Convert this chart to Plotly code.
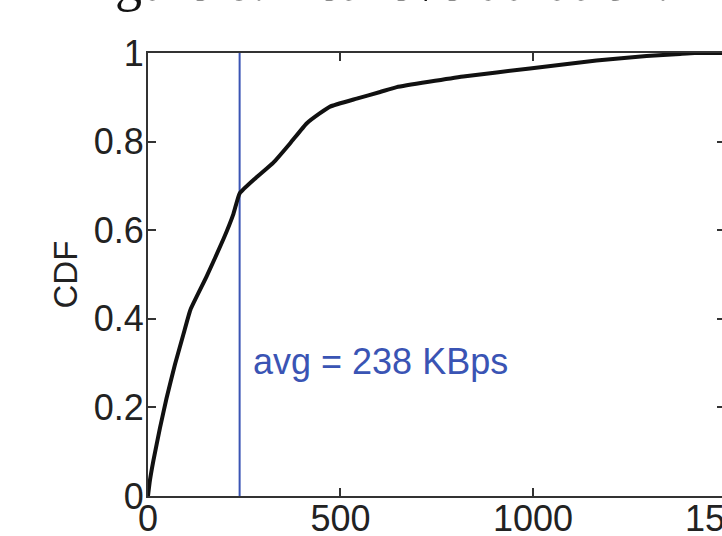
import plotly.graph_objects as go

# Throughput CDF (KBps) sampled along the curve
throughput = [0, 5, 14, 31, 48, 70, 92, 110, 152, 196, 222, 238, 280, 325, 370,
              412, 445, 473, 542, 603, 646, 819, 992, 1165, 1295, 1382, 1420, 1500]
cdf = [0, 0.035, 0.08, 0.153, 0.22, 0.297, 0.365, 0.42, 0.495, 0.58, 0.637, 0.683,
       0.718, 0.752, 0.797, 0.841, 0.863, 0.879, 0.897, 0.912, 0.923, 0.947, 0.965,
       0.983, 0.993, 0.998, 1.0, 1.0]

avg_throughput = 238
x_ticks = [0, 500, 1000]
x_last_tick = 1500
y_ticks = [0, 0.2, 0.4, 0.6, 0.8, 1]
x_max = 1491

caption = "Figure 6: Retrieve duration."

AXIS = "#333333"
BLUE = "#3a54b4"
FONT = "Liberation Sans, Arial, sans-serif"

fig = go.Figure()

fig.add_trace(go.Scatter(
    x=[avg_throughput, avg_throughput], y=[0, 1], mode="lines",
    line=dict(color=BLUE, width=2), hoverinfo="skip", showlegend=False))

fig.add_trace(go.Scatter(
    x=throughput, y=cdf, mode="lines",
    line=dict(color="#111111", width=4, shape="spline", smoothing=0.4),
    showlegend=False))

# right-hand tick marks (inward)
fig.add_trace(go.Scatter(x=[None], y=[None], yaxis="y2", showlegend=False))

fig.update_layout(
    width=722, height=536,
    margin=dict(l=148, r=0, t=53, b=40, autoexpand=False),
    paper_bgcolor="white", plot_bgcolor="white",
    font=dict(family=FONT, size=36, color="#222222"),
    xaxis=dict(
        range=[0, x_max], tickvals=x_ticks, ticks="inside", ticklen=8,
        tickwidth=2, tickcolor=AXIS, showline=True, linecolor=AXIS,
        linewidth=2, mirror="ticks", showgrid=False, zeroline=False,
        ticklabelstandoff=-10, automargin=False,
        tickfont=dict(size=36, color="#222222"),
    ),
    yaxis=dict(
        range=[0, 1], tickvals=y_ticks, ticks="inside", ticklen=8,
        tickwidth=2, tickcolor=AXIS, showline=True, linecolor=AXIS,
        linewidth=2, showgrid=False, zeroline=False,
        ticklabelstandoff=-5, automargin=False,
        tickfont=dict(size=36, color="#222222"),
    ),
    yaxis2=dict(
        range=[0, 1], tickvals=y_ticks, overlaying="y", side="right",
        ticks="inside", ticklen=5, tickwidth=2, tickcolor=AXIS,
        showticklabels=False, showline=False, showgrid=False, zeroline=False,
        automargin=False,
    ),
    annotations=[
        dict(text="CDF", textangle=-90, xref="paper", yref="paper",
             x=(65 - 148) / 574, y=0.5, xanchor="center", yanchor="middle",
             showarrow=False, font=dict(size=33, color="#222222")),
        dict(text=f"avg = {avg_throughput} KBps", xref="x", yref="paper",
             x=avg_throughput, xshift=11, y=0.3035, xanchor="left",
             yanchor="middle", showarrow=False,
             font=dict(size=36, color=BLUE)),
        dict(text=str(x_last_tick), xref="paper", yref="paper",
             x=x_last_tick / x_max, y=0, yshift=0, xanchor="center",
             yanchor="top", showarrow=False,
             font=dict(size=36, color="#222222")),
        dict(text=caption, xref="paper", yref="paper",
             x=0.387, y=1.088, xanchor="center", yanchor="bottom",
             showarrow=False,
             font=dict(family="Liberation Serif, Times New Roman, serif",
                       size=54, color="#111111")),
    ],
)

fig.write_html("out.html")
